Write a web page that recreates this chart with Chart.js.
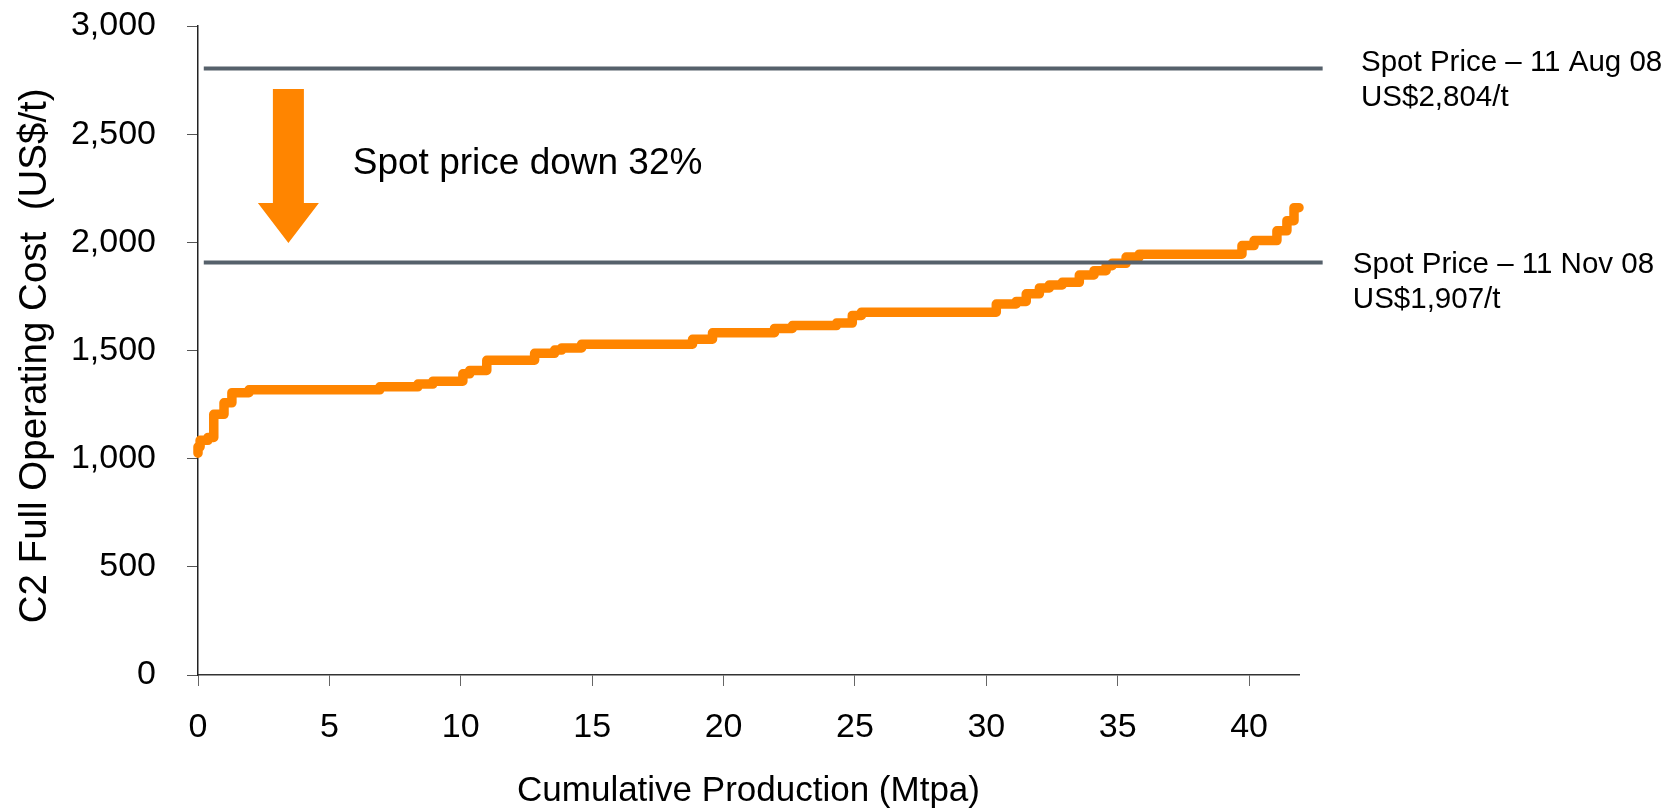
<!DOCTYPE html>
<html>
<head>
<meta charset="utf-8">
<script src="https://cdn.jsdelivr.net/npm/chart.js@4.4.1/dist/chart.umd.min.js"></script>
<style>
html,body{margin:0;padding:0;background:#fff;}
#wrap{width:1678px;height:809px;}
</style>
</head>
<body>
<div id="wrap"><canvas id="c" width="1678" height="809"></canvas></div>
<script>
// cost curve (cumulative Mtpa vs US$/t)
const prodX = [0, 0.08, 0.38, 0.6, 0.99, 1.29, 1.94, 6.92, 8.37, 8.94, 10.08, 10.34, 10.99, 12.81, 13.57,
  13.84, 14.6, 18.82, 19.58, 21.94, 22.62, 24.3, 24.9, 25.25, 30.38, 31.14, 31.52, 32.02, 32.4, 32.89,
  33.54, 34.1, 34.56, 34.79, 35.32, 35.82, 39.73, 40.19, 41.06, 41.44, 41.71, 41.9];
const costY = [1025, 1055, 1085, 1098, 1205, 1258, 1305, 1318, 1332, 1345, 1358, 1392, 1408, 1455, 1487,
  1502, 1512, 1529, 1552, 1582, 1602, 1615, 1627, 1662, 1677, 1715, 1727, 1762, 1789, 1803,
  1815, 1849, 1869, 1892, 1903, 1932, 1945, 1985, 2008, 2053, 2100, 2160];
const spotPrices = [2804, 1907];
const spotDates = ['11 Aug 08', '11 Nov 08'];
const dropNote = 'Spot price down 32%';
const xTitle = 'Cumulative Production (Mtpa)';
const yTitle = 'C2 Full Operating Cost  (US$/t) ';

const ORANGE = '#ff8500';
const GREY = '#56616b';
const FONT = '"Liberation Sans", Arial, sans-serif';

const curve = prodX.map((x, i) => ({x, y: costY[i]}));
const spotLine = v => [{x: 0.22, y: v}, {x: 42.8, y: v}];

// annotation placement (data units)
const arrowAt = {x: 3.44, top: 2709, base: 2182, tip: 1997};
const notePos = {x: 5.89, y: 2362};
const labelPos = [{x: 44.26, y: 2829}, {x: 43.95, y: 1895}];

const notes = {
  id: 'notes',
  afterDatasetsDraw(chart){
    const {ctx, scales: {x, y}} = chart;
    ctx.save();
    const cx = x.getPixelForValue(arrowAt.x);
    const t = y.getPixelForValue(arrowAt.top), b = y.getPixelForValue(arrowAt.base), tip = y.getPixelForValue(arrowAt.tip);
    ctx.fillStyle = ORANGE;
    ctx.beginPath();
    ctx.moveTo(cx - 15.5, t); ctx.lineTo(cx + 15.5, t); ctx.lineTo(cx + 15.5, b);
    ctx.lineTo(cx + 30.5, b); ctx.lineTo(cx, tip); ctx.lineTo(cx - 30.5, b);
    ctx.lineTo(cx - 15.5, b); ctx.closePath(); ctx.fill();

    ctx.fillStyle = '#000';
    ctx.textBaseline = 'middle';
    ctx.textAlign = 'left';
    ctx.font = '37px ' + FONT;
    ctx.fillText(dropNote, x.getPixelForValue(notePos.x), y.getPixelForValue(notePos.y));

    ctx.font = '29.5px ' + FONT;
    spotPrices.forEach((p, i) => {
      const lx = x.getPixelForValue(labelPos[i].x), ly = y.getPixelForValue(labelPos[i].y);
      ctx.fillText('Spot Price \u2013 ' + spotDates[i], lx, ly);
      ctx.fillText('US$' + p.toLocaleString('en-US') + '/t', lx, ly + 35);
    });
    ctx.restore();
  }
};

new Chart(document.getElementById('c'), {
  type: 'line',
  data: {
    datasets: [
      {data: spotLine(spotPrices[0]), borderColor: GREY, borderWidth: 4, pointRadius: 0, clip: false, order: 0},
      {data: spotLine(spotPrices[1]), borderColor: GREY, borderWidth: 4, pointRadius: 0, clip: false, order: 0},
      {data: curve, stepped: 'after', borderColor: ORANGE, borderWidth: 9.5, pointRadius: 0,
        borderJoinStyle: 'round', borderCapStyle: 'round', clip: false, order: 1}
    ]
  },
  options: {
    responsive: false,
    animation: false,
    devicePixelRatio: 1,
    layout: {padding: {left: 0, right: 379, top: 26, bottom: 0}},
    plugins: {legend: {display: false}, tooltip: {enabled: false}},
    scales: {
      x: {
        type: 'linear', min: 0, max: 41.9,
        afterFit: s => { s.height = 134; },
        border: {color: '#333', width: 1.5},
        grid: {drawOnChartArea: false, color: '#666', tickLength: 11},
        ticks: {stepSize: 5, includeBounds: false, padding: 21, color: '#000', font: {family: FONT, size: 34}},
        title: {display: true, text: xTitle, color: '#000', font: {family: FONT, size: 35, lineHeight: 1}, padding: {top: 0, bottom: 0}}
      },
      y: {
        min: 0, max: 3000,
        afterFit: s => { s.width = 198; s.paddingTop = 0; s.paddingBottom = 0; },
        border: {color: '#222', width: 1.5},
        grid: {drawOnChartArea: false, color: '#555', tickLength: 11},
        ticks: {stepSize: 500, padding: 31, color: '#000', font: {family: FONT, size: 34}},
        title: {display: true, text: yTitle, color: '#000', font: {family: FONT, size: 38.5, lineHeight: 1.2}, padding: {top: 12, bottom: 0}}
      }
    }
  },
  plugins: [notes]
});
</script>
</body>
</html>
